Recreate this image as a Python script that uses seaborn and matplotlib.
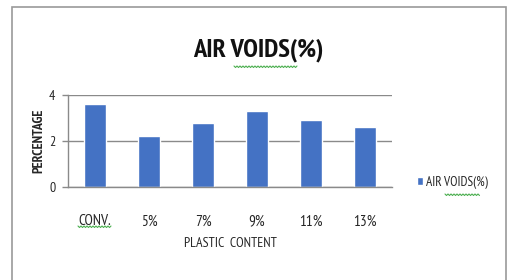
#!/usr/bin/env python3
import matplotlib
matplotlib.use("Agg")
import matplotlib.pyplot as plt
import numpy as np
import pandas as pd
import seaborn as sns
from matplotlib.patches import Rectangle

categories = ["CONV.", "5%", "7%", "9%", "11%", "13%"]
air_voids = [3.6, 2.2, 2.8, 3.3, 2.9, 2.6]
series_name = "AIR VOIDS(%)"

df = pd.DataFrame({"content": categories, "value": air_voids})

sns.set_theme(style="white")
plt.rcParams["font.family"] = ["PT Sans Narrow", "Archivo Narrow", "DejaVu Sans"]

BAR = "#4472C4"
GRID = "#8a8a8a"
TXT = "#262626"
W, H = 508, 280


def squiggle(fig, x0, x1, y):
    # spell-check wavy underline, in pixel coords of the figure
    xs = np.arange(x0, x1 + 0.1, 1.5)
    ys = y + np.where(np.arange(len(xs)) % 2 == 0, 0.0, 1.5)
    fig.add_artist(plt.Line2D(xs / W, 1 - ys / H, transform=fig.transFigure,
                              color="#4caf50", lw=0.8))


fig = plt.figure(figsize=(W / 100, H / 100), dpi=100)
fig.patches.append(Rectangle((12 / W, -0.1), 494 / W, 1.1 - 7 / H,
                             transform=fig.transFigure, fill=False,
                             edgecolor="#9a9a9a", lw=1.2))

ax = fig.add_axes([68 / W, 93.3 / H, 324 / W, 91.7 / H])
sns.barplot(data=df, x="content", y="value", color=BAR, width=0.39,
            saturation=1, ax=ax, label=series_name)
ax.set_ylim(0, 4)
ax.set_xlim(-0.5, len(categories) - 0.5)
ax.set_yticks([0, 2, 4])
ax.yaxis.grid(True, color=GRID, lw=1.0)
ax.set_axisbelow(True)
for s in ["top", "right"]:
    ax.spines[s].set_visible(False)
for s in ["bottom", "left"]:
    ax.spines[s].set_color(GRID)
    ax.spines[s].set_linewidth(1.0)
ax.tick_params(axis="y", length=4, color=GRID, width=1.0, pad=5,
               labelsize=10, labelcolor=TXT, left=True)
ax.tick_params(axis="x", length=0, pad=20, labelsize=11, labelcolor=TXT)
ax.set_xlabel("PLASTIC  CONTENT", fontsize=10, color=TXT, labelpad=6)
ax.set_ylabel("PERCENTAGE", fontsize=10, fontweight="bold", color=TXT, labelpad=3)
fig.text(258 / W, 1 - 50 / H, series_name, fontsize=19, fontweight="bold",
         color="#111111", ha="center", va="center")

ax.legend(loc="center left", bbox_to_anchor=(1.04, 0.05), frameon=False,
          fontsize=9.5, handlelength=0.5, handleheight=0.6, handletextpad=0.2,
          labelcolor=TXT)

squiggle(fig, 78, 112, 226)
squiggle(fig, 234, 297, 66)
squiggle(fig, 445, 480, 194)

fig.savefig("out.png", dpi=100)
